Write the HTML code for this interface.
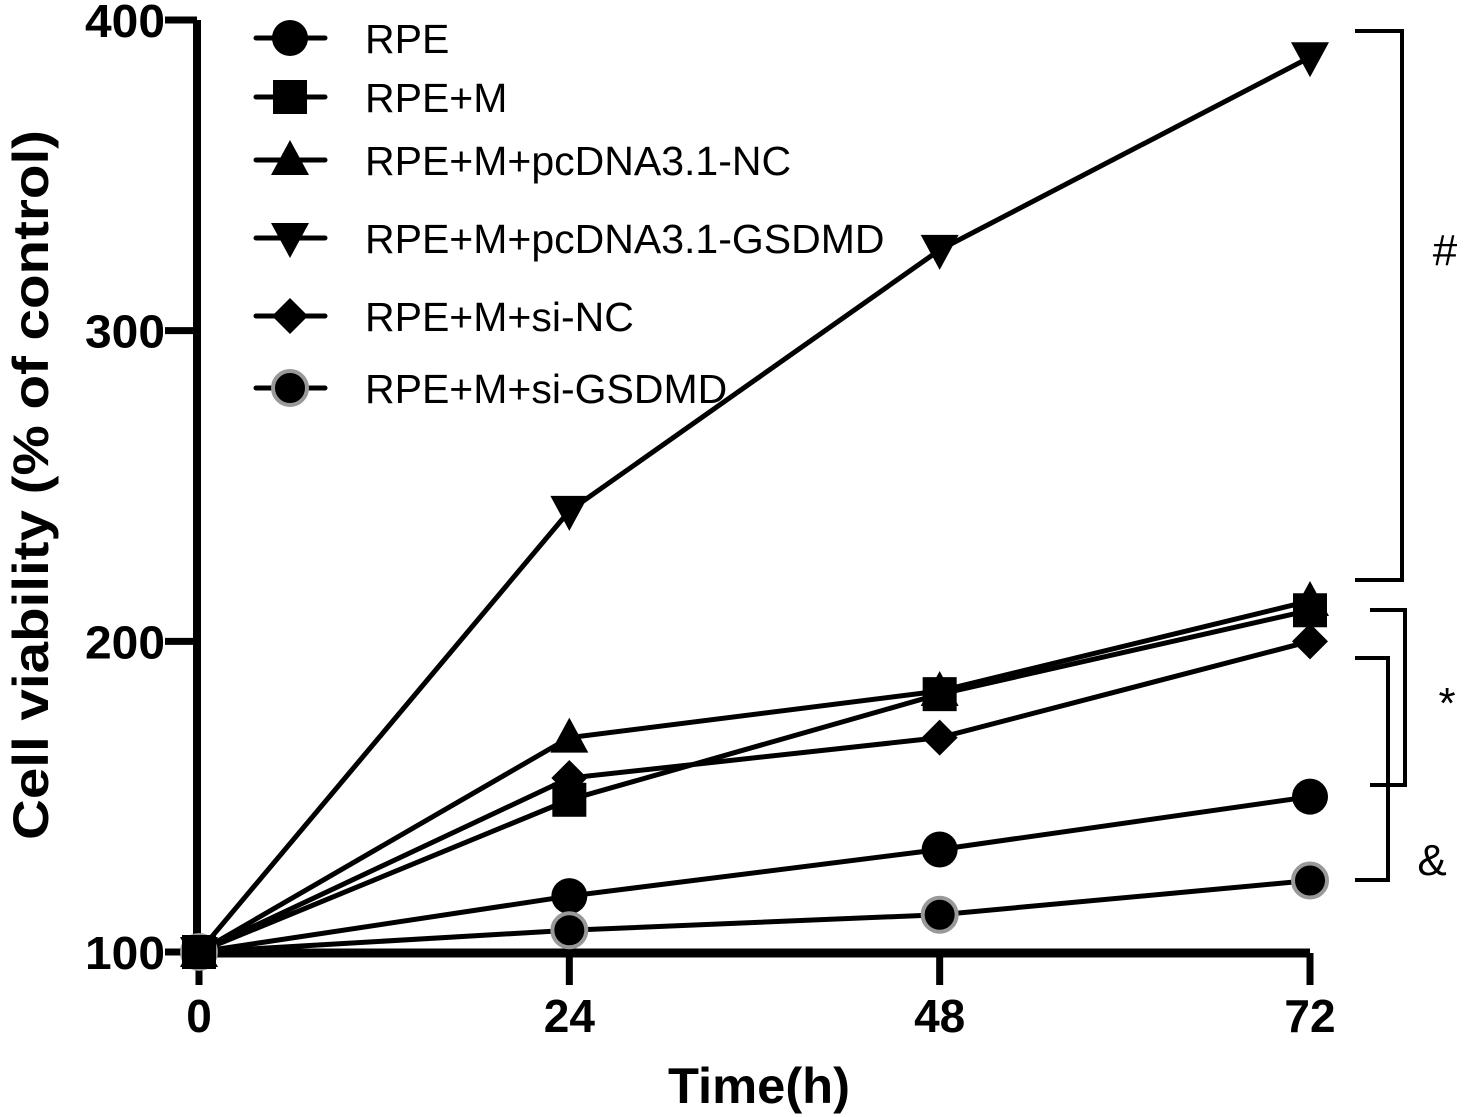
<!DOCTYPE html>
<html><head><meta charset="utf-8"><style>
html,body{margin:0;padding:0;background:#fff}
svg{display:block}
text{font-family:"Liberation Sans",Arial,sans-serif}
</style></head><body>
<svg id="chart" width="1465" height="1117" viewBox="0 0 1465 1117" xmlns="http://www.w3.org/2000/svg">
<g id="axes"></g>
<g id="series"></g>
<g id="legend"></g>
<g id="brackets" stroke="#000" stroke-width="4" fill="none">
  <polyline points="1355,31 1402,31 1402,580 1355,580"/>
  <polyline points="1370,610 1405,610 1405,785 1370,785"/>
  <polyline points="1355,658 1388,658 1388,880 1355,880"/>
</g>
<text x="1445" y="265" font-size="44" text-anchor="middle">#</text>
<text x="1447" y="718" font-size="44" text-anchor="middle">*</text>
<text x="1432" y="875" font-size="44" text-anchor="middle">&amp;</text>
<text transform="translate(48,485) rotate(-90)" font-size="50" font-weight="bold" text-anchor="middle" textLength="710" lengthAdjust="spacingAndGlyphs">Cell viability (% of control)</text>
<text x="759" y="1103" font-size="50" font-weight="bold" text-anchor="middle" textLength="182" lengthAdjust="spacingAndGlyphs">Time(h)</text>
</svg>
<script>
const categories = [0, 24, 48, 72];
const seriesNames = ["RPE","RPE+M","RPE+M+pcDNA3.1-NC","RPE+M+pcDNA3.1-GSDMD","RPE+M+si-NC","RPE+M+si-GSDMD"];
const rpe = [100, 118, 133, 150];
const rpeM = [100, 149, 183, 210];
const pcNC = [100, 169, 184, 213];
const pcGSDMD = [100, 242, 326, 388];
const siNC = [100, 156, 169, 200];
const siGSDMD = [100, 107, 112, 123];
const yTicks = [100, 200, 300, 400];
const xTicks = [0, 24, 48, 72];

const NS = "http://www.w3.org/2000/svg";
function xs(v){ return 199 + (v/72)*(1310-199); }
function ys(v){ return 952 - (v-100)*(952-20)/300; }
function mk(tag, attrs, parent){ const e=document.createElementNS(NS,tag); for(const k in attrs) e.setAttribute(k,attrs[k]); parent.appendChild(e); return e; }

const axes = document.getElementById('axes');
let yl = mk('line',{x1:197,y1:ys(400),x2:197,y2:ys(100),stroke:'#000','stroke-width':8},axes);


let xl = mk('line',{x1:193,y1:953,x2:1310,y2:953,stroke:'#000','stroke-width':9},axes);


yTicks.forEach(t=>{
  const y=ys(t);
  const l=mk('line',{x1:165,y1:y,x2:197,y2:y,stroke:'#000','stroke-width':7},axes);
  
  
  const tx=mk('text',{x:165,y:y+17,'font-size':46,'font-weight':'bold','text-anchor':'end',textLength:80,lengthAdjust:'spacingAndGlyphs'},axes);
  tx.textContent=t;
  
  
});
xTicks.forEach(t=>{
  const x=xs(t);
  const l=mk('line',{x1:x,y1:953,x2:x,y2:985,stroke:'#000','stroke-width':7},axes);
  
  
  const tx=mk('text',{x:x,y:1032,'font-size':46,'font-weight':'bold','text-anchor':'middle'},axes);
  tx.textContent=t;
  
  
});

function marker(kind,x,y,parent){
  let e;
  if(kind==='circle') e=mk('circle',{cx:x,cy:y,r:18,fill:'#000'},parent);
  else if(kind==='square') e=mk('rect',{x:x-17,y:y-17,width:34,height:34,fill:'#000'},parent);
  else if(kind==='up') e=mk('polygon',{points:`${x},${y-20} ${x+19},${y+15} ${x-19},${y+15}`,fill:'#000'},parent);
  else if(kind==='down') e=mk('polygon',{points:`${x-19},${y-15} ${x+19},${y-15} ${x},${y+20}`,fill:'#000'},parent);
  else if(kind==='diamond') e=mk('polygon',{points:`${x},${y-18} ${x+18},${y} ${x},${y+18} ${x-18},${y}`,fill:'#000'},parent);
  else e=mk('circle',{cx:x,cy:y,r:17,fill:'#000',stroke:'#999','stroke-width':4},parent);
  return e;
}
const allSeries=[rpe,rpeM,pcNC,pcGSDMD,siNC,siGSDMD];
const kinds=['circle','square','up','down','diamond','ring'];
const sg=document.getElementById('series');
allSeries.forEach((vals,i)=>{
  const g=mk('g',{},sg);
  
  
  const pts=vals.map((v,j)=>xs(categories[j])+','+ys(v)).join(' ');
  const pl=mk('polyline',{points:pts,fill:'none',stroke:'#000','stroke-width':5},g);
  
  
});
allSeries.forEach((vals,i)=>{
  vals.forEach((v,j)=>{
    const m=marker(kinds[i],xs(categories[j]),ys(v),sg);
    
    
  });
});
const o=marker('square',xs(0),ys(100),sg);



const lg=document.getElementById('legend');
const rowsY=[38,97,160,238,316,388];
seriesNames.forEach((n,i)=>{
  const g=mk('g',{},lg);
  
  
  mk('line',{x1:256,y1:rowsY[i],x2:325,y2:rowsY[i],stroke:'#000','stroke-width':5,'stroke-linecap':'round'},g);
  marker(kinds[i],290,rowsY[i],g);
  const t=mk('text',{x:365,y:rowsY[i]+15,'font-size':41},g);
  t.textContent=n;
});
</script>
</body></html>
